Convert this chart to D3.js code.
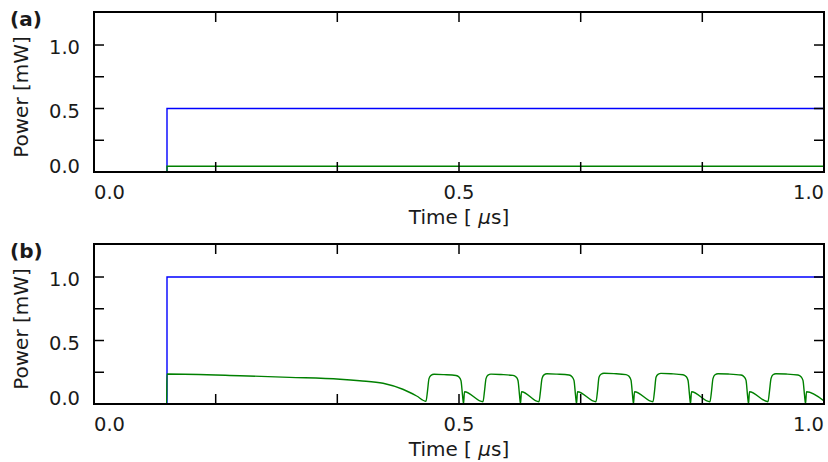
<!DOCTYPE html>
<html>
<head>
<meta charset="utf-8">
<script src="https://cdn.jsdelivr.net/npm/d3@7"></script>
<style>
body { margin: 0; background: #fff; }
text { font-family: "DejaVu Sans", Verdana, sans-serif; fill: #1a1a1a; }
</style>
</head>
<body>
<svg id="fig" width="828" height="462"></svg>
<script>
// axis values
var xMinorTicks = [0.1667, 0.3333, 0.5, 0.6667, 0.8333]
var xLabels = [0.0, 0.5, 1.0]
var yMinorTicks = [0.25, 0.5, 0.75, 1.0]
var yLabels = [0.0, 0.5, 1.0]
var panelNames = ["(a)", "(b)"]

// panel (a)
var blueA = [[0, 0], [0.1, 0], [0.1, 0.5], [1.0, 0.5]]
var greenA = [[0, 0], [0.1, 0], [0.1, 0.045], [1.0, 0.045]]

// panel (b)
var blueB = [[0, 0], [0.1, 0], [0.1, 1.0], [1.0, 1.0]]
var greenB = [
    [0, 0], [0.0995, 0], [0.1, 0.236], [0.2, 0.223], [0.268, 0.21], [0.337, 0.195],
    [0.364, 0.183], [0.396, 0.163], [0.423, 0.116], [0.442, 0.063],
    // pulse 1
    [0.4548, 0.022], [0.4568, 0.10], [0.4589, 0.20], [0.4616, 0.226], [0.4658, 0.234], [0.4795, 0.231],
    [0.4959, 0.224], [0.5000, 0.212], [0.5027, 0.184], [0.5048, 0.07], [0.5062, 0.0], [0.5075, 0.097],
    // pulse 2
    [0.5329, 0.018], [0.5349, 0.10], [0.5370, 0.20], [0.5397, 0.227], [0.5438, 0.235], [0.5575, 0.232],
    [0.5740, 0.225], [0.5781, 0.213], [0.5808, 0.185], [0.5829, 0.07], [0.5842, 0.0], [0.5856, 0.097],
    // pulse 3
    [0.6096, 0.018], [0.6116, 0.10], [0.6137, 0.20], [0.6164, 0.229], [0.6205, 0.238], [0.6342, 0.235],
    [0.6507, 0.228], [0.6548, 0.215], [0.6575, 0.186], [0.6596, 0.07], [0.6610, 0.0], [0.6623, 0.097],
    // pulse 4
    [0.6877, 0.018], [0.6897, 0.10], [0.6918, 0.21], [0.6945, 0.234], [0.6986, 0.242], [0.7123, 0.239],
    [0.7288, 0.231], [0.7329, 0.218], [0.7356, 0.188], [0.7377, 0.07], [0.7390, 0.0], [0.7404, 0.097],
    // pulse 5
    [0.7658, 0.018], [0.7678, 0.10], [0.7699, 0.21], [0.7726, 0.233], [0.7767, 0.241], [0.7904, 0.238],
    [0.8068, 0.230], [0.8110, 0.217], [0.8137, 0.187], [0.8158, 0.07], [0.8171, 0.0], [0.8185, 0.097],
    // pulse 6
    [0.8438, 0.018], [0.8459, 0.10], [0.8479, 0.20], [0.8507, 0.230], [0.8548, 0.238], [0.8685, 0.236],
    [0.8863, 0.228], [0.8904, 0.215], [0.8932, 0.186], [0.8952, 0.07], [0.8966, 0.0], [0.8979, 0.097],
    // pulse 7
    [0.9233, 0.018], [0.9253, 0.10], [0.9274, 0.20], [0.9301, 0.230], [0.9342, 0.238], [0.9479, 0.236],
    [0.9644, 0.228], [0.9685, 0.215], [0.9712, 0.186], [0.9733, 0.07], [0.9747, 0.0], [0.9760, 0.097],
    [1.0, 0.025]
]

var panels = [
    {name: panelNames[0], top: 12, series: [[blueA, "#0000ff", d3.curveLinear], [greenA, "#008000", d3.curveLinear]]},
    {name: panelNames[1], top: 244, series: [[blueB, "#0000ff", d3.curveLinear], [greenB, "#008000", d3.curveMonotoneX]]}
]

var left = 94, right = 824, h = 160, tick = 10
var svg = d3.select("#fig")

var x = d3.scaleLinear().domain([0, 1.0]).range([left, right])

panels.forEach(function (p, i) {
    var y = d3.scaleLinear().domain([0, 1.26]).range([p.top + h, p.top])
    var g = svg.append("g")

    g.append("clipPath").attr("id", "clip" + i)
        .append("rect").attr("x", left).attr("y", p.top).attr("width", right - left).attr("height", h)

    var lines = g.append("g").attr("clip-path", "url(#clip" + i + ")")
    p.series.forEach(function (s) {
        var line = d3.line().x(d => x(d[0])).y(d => y(d[1])).curve(s[2])
        lines.append("path")
            .datum(s[0])
            .attr("d", line)
            .attr("fill", "none")
            .attr("stroke", s[1])
            .attr("stroke-width", 1.4)
    })

    // inward ticks on all four sides
    xMinorTicks.forEach(function (t) {
        g.append("line").attr("x1", x(t)).attr("x2", x(t))
            .attr("y1", p.top + h).attr("y2", p.top + h - tick)
            .attr("stroke", "#000").attr("stroke-width", 1.5)
        g.append("line").attr("x1", x(t)).attr("x2", x(t))
            .attr("y1", p.top).attr("y2", p.top + tick)
            .attr("stroke", "#000").attr("stroke-width", 1.5)
    })
    yMinorTicks.forEach(function (t) {
        g.append("line").attr("x1", left).attr("x2", left + tick)
            .attr("y1", y(t)).attr("y2", y(t))
            .attr("stroke", "#000").attr("stroke-width", 1.5)
        g.append("line").attr("x1", right).attr("x2", right - tick)
            .attr("y1", y(t)).attr("y2", y(t))
            .attr("stroke", "#000").attr("stroke-width", 1.5)
    })

    g.append("rect")
        .attr("x", left).attr("y", p.top).attr("width", right - left).attr("height", h)
        .attr("fill", "none").attr("stroke", "#000").attr("stroke-width", 2)

    // tick labels, end labels kept inside the axis extent
    xLabels.forEach(function (t, k) {
        g.append("text")
            .attr("x", x(t))
            .attr("y", p.top + h + 27)
            .attr("text-anchor", k === 0 ? "start" : (k === xLabels.length - 1 ? "end" : "middle"))
            .attr("font-size", 19.5)
            .text(d3.format(".1f")(t))
    })
    yLabels.forEach(function (t, k) {
        g.append("text")
            .attr("x", left - 14)
            .attr("y", k === 0 ? y(t) + 1 : y(t) + 9)
            .attr("text-anchor", "end")
            .attr("font-size", 19.5)
            .text(d3.format(".1f")(t))
    })

    var xt = g.append("text")
        .attr("x", (left + right) / 2)
        .attr("y", p.top + h + 52)
        .attr("text-anchor", "middle")
        .attr("font-size", 20)
    xt.append("tspan").text("Time [ ")
    xt.append("tspan").attr("font-style", "italic").text("\u03bc")
    xt.append("tspan").text("s]")

    g.append("text")
        .attr("transform", "translate(28," + (p.top + h / 2 + 5) + ") rotate(-90)")
        .attr("text-anchor", "middle")
        .attr("font-size", 20)
        .text("Power [mW]")

    g.append("text")
        .attr("x", 10)
        .attr("y", p.top + 14)
        .attr("font-size", 20)
        .attr("font-weight", "bold")
        .text(p.name)
})
</script>
</body>
</html>
